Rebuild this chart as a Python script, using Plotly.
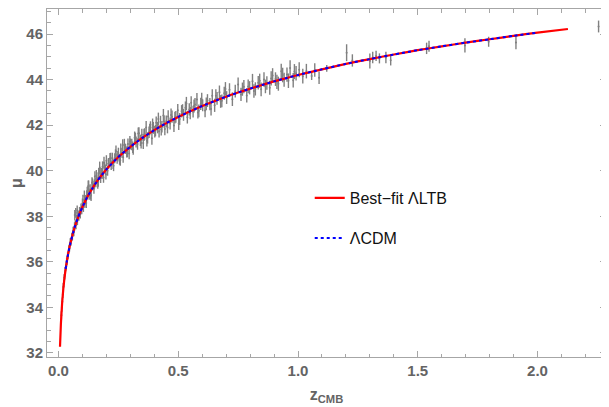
import plotly.graph_objects as go

# ---------------- data ----------------
sn_z = [
    0.012, 0.014, 0.016, 0.018, 0.020, 0.022, 0.024, 0.026, 0.028, 0.030,
    0.032, 0.034, 0.036, 0.038, 0.040, 0.043, 0.046, 0.049, 0.052, 0.055,
    0.058, 0.061, 0.064, 0.067, 0.068, 0.070, 0.072, 0.073, 0.076, 0.078,
    0.079, 0.082, 0.085, 0.088, 0.091, 0.094, 0.097,
    0.100, 0.104, 0.108, 0.112, 0.116, 0.120, 0.124, 0.128, 0.132, 0.136,
    0.140, 0.144, 0.148, 0.152, 0.156, 0.160, 0.164, 0.168, 0.172, 0.176,
    0.180, 0.184, 0.188, 0.192, 0.196, 0.200, 0.205, 0.210, 0.215, 0.220,
    0.225, 0.230, 0.235, 0.240, 0.245, 0.250, 0.255, 0.260, 0.265, 0.270,
    0.275, 0.280, 0.285, 0.290, 0.295, 0.300,
    0.102, 0.110, 0.118, 0.126, 0.134, 0.142, 0.150, 0.158, 0.166, 0.174,
    0.182, 0.190, 0.198, 0.208, 0.218, 0.228, 0.238, 0.248, 0.258, 0.268,
    0.278, 0.288, 0.298,
    0.306, 0.312, 0.318, 0.324, 0.330, 0.336, 0.342, 0.348, 0.354, 0.360,
    0.366, 0.372, 0.378, 0.384, 0.390, 0.396, 0.402, 0.408, 0.414, 0.420,
    0.426, 0.432, 0.438, 0.444, 0.450, 0.458, 0.466, 0.474, 0.482, 0.490,
    0.498, 0.506, 0.514, 0.522, 0.530, 0.538, 0.546, 0.554, 0.562, 0.570,
    0.578, 0.586, 0.594, 0.602, 0.612, 0.622, 0.632, 0.642, 0.652, 0.662,
    0.672, 0.682, 0.692,
    0.310, 0.321, 0.333, 0.345, 0.357, 0.369, 0.381, 0.393, 0.405, 0.417,
    0.429, 0.441, 0.455, 0.470, 0.486, 0.502, 0.518, 0.534, 0.550, 0.566,
    0.582, 0.598, 0.617, 0.637, 0.657, 0.677, 0.697,
    0.702, 0.714, 0.726, 0.738, 0.750, 0.762, 0.774, 0.786, 0.798, 0.810,
    0.822, 0.834, 0.846, 0.858, 0.870, 0.882, 0.894, 0.906, 0.918, 0.930,
    0.942, 0.954, 0.967, 0.980, 0.992, 1.005, 1.020, 1.035, 1.057, 1.070,
    1.088, 1.120,
    0.768, 0.792, 0.816, 0.840, 0.864, 0.888, 0.912, 0.936, 0.960, 0.985,
    1.203, 1.227, 1.300, 1.312, 1.326, 1.340, 1.367, 1.387, 1.537, 1.547,
    1.697, 1.796, 1.910, 2.255,
]
sn_mu = [
    33.65, 33.98, 34.25, 34.58, 34.90, 35.05, 35.30, 35.38, 35.60, 35.75,
    35.82, 36.02, 36.05, 36.25, 36.30, 36.55, 36.62, 36.85, 36.88, 37.08,
    37.12, 37.35, 37.30, 37.55, 38.05, 37.65, 38.15, 37.62, 37.85, 38.25,
    37.80, 38.05, 38.00, 38.20, 38.10, 38.35, 38.30,
    38.56, 38.40, 38.89, 38.72, 38.58, 39.06, 39.32, 38.94, 39.18, 38.91,
    39.48, 39.35, 39.21, 39.74, 39.48, 39.70, 39.43, 39.88, 40.14, 39.67,
    39.90, 40.17, 39.70, 40.16, 40.06, 40.44, 40.00, 40.33, 40.54, 40.24,
    40.56, 40.22, 40.55, 40.85, 40.53, 40.78, 40.50, 40.95, 40.79, 40.59,
    41.14, 40.96, 40.82, 41.17, 40.76, 41.17,
    38.71, 38.58, 38.92, 39.33, 38.95, 39.43, 39.41, 39.79, 39.51, 39.90,
    39.85, 40.35, 39.83, 40.31, 40.55, 40.30, 40.70, 40.63, 40.46, 41.12,
    40.96, 40.83, 41.28,
    41.15, 40.95, 41.45, 41.26, 41.17, 41.64, 41.33, 41.58, 41.22, 41.61,
    41.90, 41.44, 41.69, 41.90, 41.42, 41.88, 41.71, 42.11, 41.89, 41.73,
    42.14, 41.93, 42.42, 41.83, 42.17, 42.38, 42.07, 42.37, 41.98, 42.36,
    42.65, 42.27, 42.61, 42.45, 42.76, 42.35, 42.69, 42.98, 42.59, 42.91,
    43.12, 42.63, 42.93, 42.87, 42.64, 43.08, 42.92, 43.29, 42.87, 43.17,
    43.44, 43.07, 43.40,
    41.03, 41.41, 41.63, 41.22, 41.57, 41.32, 41.81, 42.02, 41.76, 42.27,
    41.81, 42.15, 41.90, 42.45, 42.33, 42.07, 42.65, 42.95, 42.53, 42.84,
    42.56, 43.13, 42.93, 42.71, 43.29, 43.04, 43.59,
    43.21, 43.55, 43.14, 43.49, 43.78, 43.35, 43.69, 43.30, 43.64, 43.93,
    43.59, 43.86, 43.57, 44.00, 43.85, 43.64, 44.18, 44.02, 43.82, 44.36,
    43.99, 44.22, 44.51, 43.97, 44.28, 44.43, 44.15, 44.37, 44.16, 44.42,
    44.08, 44.49,
    43.58, 43.70, 43.50, 43.95, 43.70, 44.05, 43.90, 44.20, 43.95, 44.35,
    45.18, 44.84, 44.82, 44.97, 45.04, 44.93, 44.97, 44.85, 45.37, 45.46,
    45.50, 45.66, 45.63, 46.33,
]
sn_err = [
    0.18, 0.17, 0.18, 0.17, 0.16, 0.17, 0.16, 0.16, 0.17, 0.16,
    0.16, 0.17, 0.18, 0.17, 0.17, 0.18, 0.17, 0.18, 0.17, 0.18,
    0.18, 0.19, 0.18, 0.19, 0.22, 0.18, 0.21, 0.19, 0.20, 0.22,
    0.19, 0.20, 0.20, 0.21, 0.20, 0.21, 0.21,
    0.22, 0.21, 0.24, 0.21, 0.22, 0.23, 0.25, 0.21, 0.22, 0.24,
    0.23, 0.21, 0.22, 0.24, 0.21, 0.23, 0.22, 0.24, 0.26, 0.21,
    0.22, 0.24, 0.23, 0.23, 0.21, 0.24, 0.22, 0.23, 0.24, 0.21,
    0.23, 0.24, 0.22, 0.26, 0.22, 0.23, 0.24, 0.24, 0.22, 0.24,
    0.26, 0.22, 0.24, 0.24, 0.26, 0.24,
    0.23, 0.21, 0.22, 0.24, 0.22, 0.23, 0.21, 0.24, 0.22, 0.23,
    0.21, 0.26, 0.22, 0.23, 0.24, 0.22, 0.24, 0.23, 0.24, 0.26,
    0.22, 0.24, 0.24,
    0.25, 0.25, 0.27, 0.24, 0.25, 0.27, 0.25, 0.26, 0.27, 0.25,
    0.28, 0.25, 0.25, 0.27, 0.28, 0.26, 0.25, 0.27, 0.25, 0.27,
    0.27, 0.25, 0.29, 0.27, 0.25, 0.27, 0.26, 0.27, 0.28, 0.26,
    0.28, 0.26, 0.27, 0.26, 0.28, 0.28, 0.27, 0.29, 0.26, 0.28,
    0.29, 0.28, 0.27, 0.26, 0.29, 0.28, 0.27, 0.29, 0.29, 0.28,
    0.30, 0.28, 0.29,
    0.25, 0.26, 0.27, 0.25, 0.27, 0.26, 0.25, 0.27, 0.25, 0.28,
    0.26, 0.27, 0.26, 0.28, 0.26, 0.28, 0.27, 0.29, 0.27, 0.28,
    0.27, 0.29, 0.28, 0.29, 0.29, 0.28, 0.30,
    0.28, 0.29, 0.30, 0.28, 0.31, 0.29, 0.29, 0.31, 0.29, 0.32,
    0.29, 0.30, 0.30, 0.32, 0.30, 0.31, 0.32, 0.30, 0.31, 0.33,
    0.31, 0.31, 0.34, 0.32, 0.32, 0.33, 0.32, 0.32, 0.18, 0.30,
    0.27, 0.15,
    0.29, 0.30, 0.30, 0.31, 0.30, 0.31, 0.31, 0.32, 0.32, 0.33,
    0.37, 0.27, 0.33, 0.25, 0.23, 0.22, 0.25, 0.23, 0.25, 0.24,
    0.31, 0.22, 0.30, 0.26,
]

ltb_z = [0.0063, 0.01, 0.015, 0.02, 0.025, 0.03, 0.035, 0.04, 0.045, 0.05,
         0.06, 0.07, 0.08, 0.09, 0.10, 0.12, 0.14, 0.16, 0.18, 0.20,
         0.25, 0.30, 0.35, 0.40, 0.45, 0.50, 0.55, 0.60, 0.65, 0.70,
         0.75, 0.80, 0.85, 0.90, 0.95, 1.00, 1.10, 1.20, 1.30, 1.40,
         1.50, 1.60, 1.70, 1.80, 1.90, 2.00, 2.127]
ltb_mu = [32.27, 33.27, 34.16, 34.80, 35.29, 35.69, 36.03, 36.33, 36.60, 36.83,
          37.24, 37.60, 37.90, 38.17, 38.41, 38.84, 39.20, 39.52, 39.80, 40.06,
          40.60, 41.05, 41.44, 41.78, 42.09, 42.36, 42.61, 42.84, 43.05, 43.25,
          43.43, 43.60, 43.76, 43.92, 44.06, 44.20, 44.45, 44.69, 44.90, 45.10,
          45.29, 45.46, 45.62, 45.77, 45.92, 46.06, 46.22]

lcdm_z = [0.03, 0.035, 0.04, 0.045, 0.05, 0.06, 0.07, 0.08, 0.09, 0.10,
          0.12, 0.14, 0.16, 0.18, 0.20, 0.25, 0.30, 0.35, 0.40, 0.45,
          0.50, 0.55, 0.60, 0.65, 0.70, 0.75, 0.80, 0.85, 0.90, 0.95,
          1.00, 1.10, 1.20, 1.30, 1.40, 1.50, 1.60, 1.70, 1.80, 1.90, 2.00]
lcdm_mu = [35.69, 36.03, 36.33, 36.60, 36.83, 37.24, 37.60, 37.90, 38.17, 38.41,
           38.84, 39.20, 39.52, 39.80, 40.06, 40.60, 41.05, 41.44, 41.78, 42.09,
           42.36, 42.61, 42.84, 43.05, 43.25, 43.43, 43.60, 43.76, 43.92, 44.06,
           44.20, 44.45, 44.69, 44.90, 45.10, 45.29, 45.46, 45.62, 45.77, 45.92, 46.06]

x_tickvals = [0.0, 0.5, 1.0, 1.5, 2.0]
x_ticktext = ["0.0", "0.5", "1.0", "1.5", "2.0"]
y_tickvals = [32, 34, 36, 38, 40, 42, 44, 46]
y_ticktext = ["32", "34", "36", "38", "40", "42", "44", "46"]

# ---------------- figure ----------------
FRAME = "#a6a6a6"
LABEL = "#646464"
FONT = "Liberation Sans, Arial, sans-serif"

fig = go.Figure()

fig.add_trace(go.Scatter(
    x=sn_z, y=sn_mu, mode="markers", showlegend=False,
    marker=dict(size=2, color="#808080"),
    error_y=dict(type="data", array=sn_err, visible=True,
                 color="#808080", thickness=1.4, width=0),
    hoverinfo="skip",
))

fig.add_trace(go.Scatter(
    x=ltb_z, y=ltb_mu, mode="lines", name="Best\u2212fit \u039bLTB",
    line=dict(color="#ff0000", width=2.2, shape="spline", smoothing=0.6),
    legend="legend",
))

fig.add_trace(go.Scatter(
    x=lcdm_z, y=lcdm_mu, mode="lines", name="\u039bCDM",
    line=dict(color="#0000ff", width=2.0, dash="3px,3px", shape="spline", smoothing=0.6),
    legend="legend2",
))

axis_common = dict(
    showline=True, linecolor=FRAME, linewidth=1, mirror="ticks",
    ticks="inside", tickcolor=FRAME, ticklen=6, tickwidth=1,
    showgrid=False, zeroline=False, automargin=False,
    tickfont=dict(family=FONT, size=15, color=LABEL, weight="bold"),
)

# the page body adds an 8 px offset, so the figure is drawn 8 px smaller
fig.update_layout(
    width=601, height=399,
    margin=dict(l=39, r=3, t=1, b=50),
    paper_bgcolor="white", plot_bgcolor="white",
    xaxis=dict(
        range=[-0.048, 2.286], tickvals=x_tickvals, ticktext=x_ticktext,
        minor=dict(dtick=0.1, tick0=0, ticks="inside", ticklen=3.5, tickcolor=FRAME),
        title=dict(text="z<sub>CMB</sub>", standoff=10,
                   font=dict(family=FONT, size=16, color=LABEL, weight="bold")),
        **axis_common,
    ),
    yaxis=dict(
        range=[31.822, 47.098], tickvals=y_tickvals, ticktext=y_ticktext,
        minor=dict(dtick=0.5, tick0=32, ticks="inside", ticklen=3.5, tickcolor=FRAME),
        title=dict(text="\u03bc", standoff=6,
                   font=dict(family=FONT, size=16, color=LABEL, weight="bold")),
        **axis_common,
    ),
    legend=dict(x=0.470, y=0.457, xanchor="left", yanchor="middle",
                bgcolor="rgba(0,0,0,0)", borderwidth=0,
                font=dict(family=FONT, size=16, color="#111111")),
    legend2=dict(x=0.470, y=0.342, xanchor="left", yanchor="middle",
                 bgcolor="rgba(0,0,0,0)", borderwidth=0,
                 font=dict(family=FONT, size=16, color="#111111")),
)

fig.write_html("out.html")
